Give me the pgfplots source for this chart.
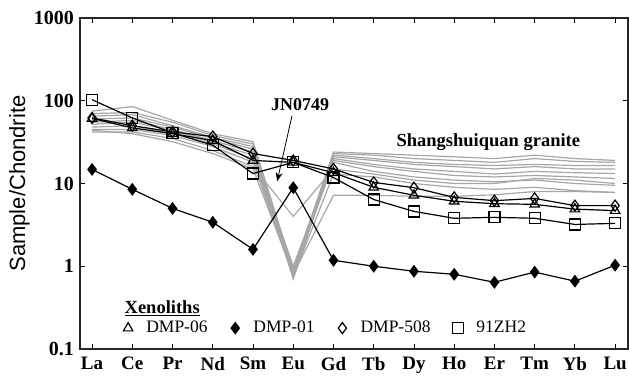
\documentclass[border=0pt]{standalone}
\usepackage{fontspec}
\setmainfont{Liberation Serif}
\setsansfont{Liberation Sans}
\usepackage{pgfplots}
\pgfplotsset{compat=1.18}
\usetikzlibrary{arrows.meta}
\begin{document}
\fontsize{18bp}{20bp}\selectfont
\begin{tikzpicture}
\begin{axis}[
  width=548bp, height=331bp, scale only axis,
  xmin=-0.3, xmax=13.32,
  ymode=log, ymin=0.1, ymax=1000,
  xtick={0,...,13},
  xticklabels={La,Ce,Pr,Nd,Sm,Eu,Gd,Tb,Dy,Ho,Er,Tm,Yb,Lu},
  ytick={0.1,1,10,100,1000},
  yticklabels={0.1,1,10,100,1000},
  yminorticks=false,
  tick align=inside,
  major tick length=5bp,
  tick style={black, line width=0.8bp},
  xticklabel style={font=\fontsize{19bp}{19bp}\selectfont\bfseries, yshift=-2bp},
  yticklabel style={font=\fontsize{20bp}{20bp}\selectfont\bfseries},
  axis line style={line width=1.3bp, black!85},
  ylabel={Sample/Chondrite},
  ylabel shift=-8bp,
  ylabel style={font=\sffamily\fontsize{22bp}{22bp}\selectfont},
  legend columns=4,
  legend image code/.code={\path (0cm,0cm) (0.8cm,0cm); \draw[#1] plot coordinates {(0.25cm,0cm)};},
  legend style={at={(0.068,0.063)}, anchor=west, draw=none, fill=none,
    font=\fontsize{17.5bp}{17.5bp}\selectfont,
    /tikz/every even column/.append style={column sep=18bp}},
  gran/.style={black!35, line width=1.2bp, no marks, forget plot},
]
% Shangshuiquan granite
\addplot[gran] coordinates {(0,75)(1,85)(2,58)(3,40)(4,32)(5,0.9)(6,24)(7,23)(8,22)(9,21)(10,20)(11,22)(12,20)(13,19)};
\addplot[gran] coordinates {(0,70)(1,72)(2,55)(3,38)(4,30)(5,0.8)(6,23)(7,22)(8,20)(9,19)(10,18)(11,20)(12,18.5)(13,18)};
\addplot[gran] coordinates {(0,65)(1,68)(2,50)(3,36)(4,28)(5,0.75)(6,22)(7,20)(8,18)(9,17)(10,16.5)(11,17)(12,16.5)(13,16.5)};
\addplot[gran] coordinates {(0,60)(1,62)(2,48)(3,35)(4,26)(5,0.7)(6,21)(7,19)(8,17)(9,16)(10,15)(11,16)(12,15)(13,15)};
\addplot[gran] coordinates {(0,55)(1,58)(2,45)(3,33)(4,24)(5,1.0)(6,20)(7,17)(8,15)(9,14)(10,13)(11,14)(12,13.5)(13,13.2)};
\addplot[gran] coordinates {(0,52)(1,55)(2,44)(3,31)(4,22)(5,0.85)(6,19)(7,16)(8,14)(9,12.5)(10,12)(11,12.5)(12,12)(13,11.5)};
\addplot[gran] coordinates {(0,48)(1,50)(2,40)(3,30)(4,20)(5,0.8)(6,18)(7,14)(8,12)(9,11)(10,10.5)(11,11)(12,10)(13,9.5)};
\addplot[gran] coordinates {(0,45)(1,45)(2,38)(3,28)(4,18)(5,0.75)(6,13)(7,12)(8,10)(9,9)(10,8.5)(11,9)(12,8.2)(13,7.8)};
\addplot[gran] coordinates {(0,42)(1,42)(2,35)(3,25)(4,16)(5,4.0)(6,15)(7,13)(8,11)(9,10)(10,10)(11,11.5)(12,11)(13,10)};
\addplot[gran] coordinates {(0,44)(1,40)(2,32)(3,23)(4,15)(5,0.8)(6,7.2)(7,7.2)(8,7)(9,7)(10,7.3)(11,8)(12,8)(13,7.8)};
% Xenoliths
\addplot[black, line width=1.2bp, mark=diamond*, mark size=5.5bp, mark options={solid, fill=black}, forget plot]
  coordinates {(0,14.8)(1,8.5)(2,5.0)(3,3.4)(4,1.6)(5,8.9)(6,1.18)(7,1.0)(8,0.87)(9,0.8)(10,0.64)(11,0.85)(12,0.66)(13,1.03)};
\addplot[black, line width=1.2bp, mark=square, mark size=5.5bp, mark options={solid, fill=white}, forget plot]
  coordinates {(0,103)(1,62)(2,41)(3,29)(4,13.2)(5,18)(6,11.8)(7,6.4)(8,4.6)(9,3.8)(10,3.9)(11,3.8)(12,3.2)(13,3.3)};
\addplot[black, line width=1.2bp, mark=diamond, mark size=5.5bp, mark options={solid, fill=white}, forget plot]
  coordinates {(0,62)(1,50)(2,42)(3,37)(4,23)(5,19)(6,15)(7,10.3)(8,8.9)(9,6.8)(10,6.2)(11,6.6)(12,5.4)(13,5.4)};
\addplot[black, line width=1.2bp, mark=triangle, mark size=5.5bp, mark options={solid, fill=white}, forget plot]
  coordinates {(0,61)(1,47)(2,40)(3,33)(4,19)(5,18)(6,13.5)(7,9)(8,7.2)(9,6.1)(10,5.7)(11,5.6)(12,4.9)(13,4.7)};
% legend
\addlegendimage{only marks, black, line width=1.2bp, mark=triangle, mark size=5.5bp}
\addlegendentry{DMP-06}
\addlegendimage{only marks, black, line width=1.2bp, mark=diamond*, mark size=5.5bp}
\addlegendentry{DMP-01}
\addlegendimage{only marks, black, line width=1.2bp, mark=diamond, mark size=5.5bp}
\addlegendentry{DMP-508}
\addlegendimage{only marks, black, line width=1.2bp, mark=square, mark size=5.5bp}
\addlegendentry{91ZH2}
% annotations
\node[font=\fontsize{18.5bp}{18.5bp}\selectfont\bfseries] at (rel axis cs:0.15,0.124) {\underline{Xenoliths}};
\node[font=\fontsize{18bp}{18bp}\selectfont\bfseries] at (axis cs:5.17,89) {JN0749};
\draw[-{Stealth[length=9bp,width=7bp]}, line width=0.8bp] (axis cs:4.97,66) -- (axis cs:4.6,10.6);
\node[font=\fontsize{18.5bp}{18.5bp}\selectfont\bfseries] at (axis cs:9.85,32) {Shangshuiquan granite};
\end{axis}
\pgfresetboundingbox
\path (current axis.south west) ++(-80bp,-28bp) coordinate (bl);
\path (current axis.north east) ++(1bp,18bp) coordinate (tr);
\path (bl) rectangle (tr);
\end{tikzpicture}
\end{document}
